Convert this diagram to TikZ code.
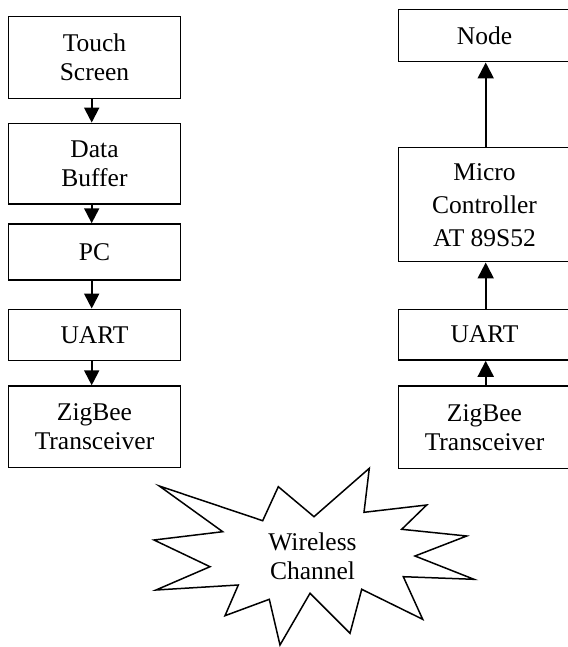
\documentclass[tikz,border=0pt]{standalone}
\usepackage{fontspec}
\setmainfont{Liberation Serif}
\usetikzlibrary{arrows.meta}
\begin{document}
\begin{tikzpicture}[x=1pt,y=-1pt,
  box/.style={draw,line width=1.5pt,minimum width=172.4pt,inner sep=0pt,align=center,
    font=\fontsize{25.5}{29}\selectfont},
  arr/.style={line width=2pt,-{Triangle[width=15pt,length=15pt]}},
  arrb/.style={line width=2pt,-{Triangle[width=16pt,length=16pt]}},
  starshape/.style={draw,line width=1.5pt,line join=miter}]
\useasboundingbox (0,0) rectangle (567,647);
% left column
\node[box,minimum height=81.6pt] (ts) at (94.5,57.5) {Touch\\Screen};
\node[box,minimum height=80.7pt] (db) at (94.5,163.7) {Data\\Buffer};
\node[box,minimum height=56pt] (pc) at (94.5,252) {PC};
\node[box,minimum height=51.4pt] (ul) at (94.5,335) {UART};
\node[box,minimum height=81.3pt] (zl) at (94.5,426.7) {ZigBee\\Transceiver};
% right column
\node[box,minimum height=52.4pt] (nd) at (484.5,35.5) {Node};
\node[box,minimum height=114pt,font=\fontsize{25.5}{33}\selectfont] (mc) at (484.5,204.7) {Micro\\Controller\\AT 89S52};
\node[box,minimum height=50.7pt] (ur) at (484.5,334.7) {UART};
\node[box,minimum height=82.3pt] (zr) at (484.5,427.2) {ZigBee\\Transceiver};
% arrows
\draw[arr] ([xshift=-2.8pt]ts.south) -- ([xshift=-2.8pt]db.north);
\draw[arr] ([xshift=-2.8pt]db.south) -- ([xshift=-2.8pt]pc.north);
\draw[arr] ([xshift=-2.8pt]pc.south) -- ([xshift=-2.8pt]ul.north);
\draw[arr] ([xshift=-2.8pt]ul.south) -- ([xshift=-2.8pt]zl.north);
\draw[arrb] ([xshift=1.2pt]zr.north) -- ([xshift=1.2pt]ur.south);
\draw[arrb] ([xshift=1.2pt]ur.north) -- ([xshift=1.2pt]mc.south);
\draw[arrb] ([xshift=1.2pt]mc.north) -- ([xshift=1.2pt]nd.south);
% star
\draw[starshape] (159.3,486) -- (262.7,520.7) -- (278.3,486.7) -- (314,516.7)
  -- (369.3,468.3) -- (364,512.3) -- (426.7,505) -- (401.7,529.3)
  -- (466.7,536) -- (415,556) -- (474,579.3) -- (403.3,576.7)
  -- (422.7,619.3) -- (361.7,589.3) -- (350,633.3) -- (310,593.3)
  -- (280,645) -- (269.3,599.3) -- (225,615.7) -- (238.3,585)
  -- (156,590) -- (210,566.7) -- (154,540) -- (222.7,531.7) -- cycle;
\node[align=center,inner sep=0pt,font=\fontsize{25.5}{29}\selectfont] (wc) at (312.5,556) {Wireless\\Channel};
\end{tikzpicture}
\end{document}
